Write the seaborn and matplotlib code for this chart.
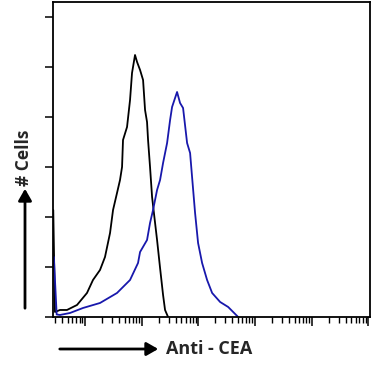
import matplotlib
matplotlib.use('Agg')
import matplotlib.pyplot as plt
import matplotlib.ticker as mticker
from matplotlib.patches import FancyArrowPatch
import seaborn as sns
import numpy as np
import pandas as pd

# Histogram outlines (x in log10 units, y in cell counts)
isotype_log = [0.44, 0.47, 0.558, 0.682, 0.859, 1.035, 1.141, 1.265, 1.353, 1.442, 1.495,
               1.565, 1.618, 1.654, 1.671, 1.742, 1.795, 1.830, 1.883, 1.919, 1.972,
               2.025, 2.060, 2.095, 2.113, 2.148, 2.184, 2.237, 2.272, 2.325, 2.378,
               2.413, 2.466]
isotype_count = [42.8, 2.0, 2.8, 2.8, 4.8, 9.6, 14.8, 18.8, 24.0, 33.6, 42.8,
                 49.6, 54.8, 60.0, 70.8, 76.0, 86.8, 97.6, 104.8, 102.0, 98.8,
                 94.8, 82.8, 78.0, 70.8, 60.0, 48.0, 37.6, 30.8, 19.6, 8.8,
                 2.8, 0.0]

cea_log = [0.45, 0.50, 0.558, 0.735, 0.965, 1.265, 1.565, 1.795, 1.936, 1.972, 2.095,
           2.148, 2.201, 2.272, 2.325, 2.378, 2.449, 2.502, 2.537, 2.625, 2.678,
           2.731, 2.802, 2.855, 2.890, 2.943, 2.996, 3.067, 3.155, 3.244, 3.385,
           3.527, 3.703]
cea_count = [24.0, 1.0, 0.8, 1.6, 3.6, 5.6, 9.6, 14.8, 21.6, 26.0, 30.8,
             37.6, 42.8, 50.8, 54.8, 61.6, 69.6, 78.8, 84.0, 90.0, 85.6,
             83.6, 69.6, 65.6, 56.0, 41.6, 29.6, 21.6, 14.8, 9.6, 6.0,
             4.0, 0.0]

y_ticks = [0, 20, 40, 60, 80, 100, 120]

iso = pd.DataFrame({'fl': 10 ** np.array(isotype_log), 'count': isotype_count})
cea = pd.DataFrame({'fl': 10 ** np.array(cea_log), 'count': cea_count})

sns.set_style('ticks')
plt.rcParams['font.family'] = ['Open Sans', 'DejaVu Sans']

fig = plt.figure(figsize=(3.75, 3.77), dpi=100)
ax = fig.add_axes([0.1413, 0.1592, 0.8453, 0.8355])

sns.lineplot(data=iso, x='fl', y='count', color='black', lw=1.3,
             sort=False, estimator=None, ax=ax)
sns.lineplot(data=cea, x='fl', y='count', color='#1818ac', lw=1.3,
             sort=False, estimator=None, ax=ax)

ax.set_xscale('log')
ax.set_xlim(10 ** 0.435, 10 ** 6.03)
ax.set_ylim(0, 126)
ax.set_yticks(y_ticks)
ax.xaxis.set_major_locator(mticker.LogLocator(base=10, numticks=10))
ax.xaxis.set_minor_locator(mticker.LogLocator(base=10, subs=np.arange(2, 10), numticks=20))
ax.set_xticklabels([])
ax.set_yticklabels([])
ax.xaxis.set_minor_formatter(mticker.NullFormatter())
ax.set_xlabel('')
ax.set_ylabel('')

for s in ax.spines.values():
    s.set_visible(True)
    s.set_color('black')
    s.set_linewidth(1.3)
ax.tick_params(axis='x', which='major', length=6.5, width=1.1, color='black', direction='out')
ax.tick_params(axis='x', which='minor', length=4.5, width=1.0, color='black', direction='out')
ax.tick_params(axis='y', which='major', length=6, width=1.1, color='black', direction='out')

# axis labels with arrows
fig.patches.append(FancyArrowPatch(
    (57 / 375, 1 - 349 / 377), (161 / 375, 1 - 349 / 377), transform=fig.transFigure,
    arrowstyle='-|>,head_length=7,head_width=4', color='black', lw=2.0))
fig.patches.append(FancyArrowPatch(
    (25 / 375, 1 - 311 / 377), (25 / 375, 1 - 186 / 377), transform=fig.transFigure,
    arrowstyle='-|>,head_length=7,head_width=4', color='black', lw=2.0))
fig.text(166 / 375, 1 - 349 / 377, 'Anti - CEA', ha='left', va='center',
         fontsize=13, fontweight='bold')
fig.text(24 / 375, 1 - 158 / 377, '# Cells', ha='center', va='center',
         rotation=90, fontsize=12.5, fontweight='bold')

plt.savefig('out.png', dpi=100)
plt.close()
